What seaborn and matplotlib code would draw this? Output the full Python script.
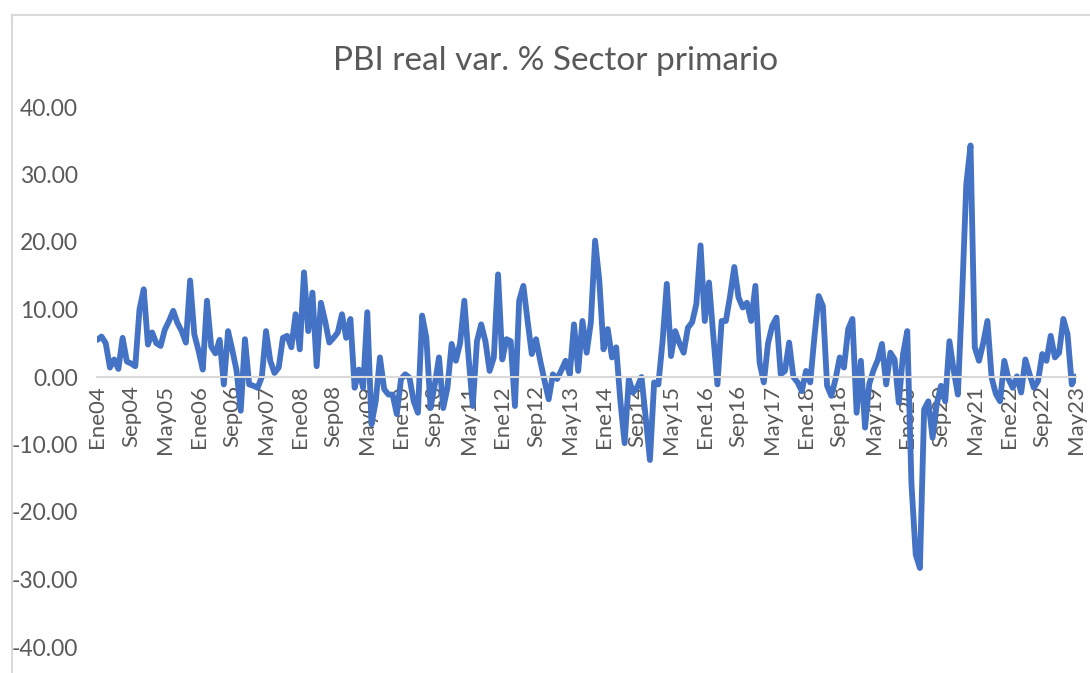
import numpy as np
import pandas as pd
import matplotlib
matplotlib.use("Agg")
import matplotlib.pyplot as plt
from matplotlib.patches import Rectangle
import seaborn as sns

# monthly % change, Jan 2004 .. May 2023
v2004 = [5.5, 6.0, 5.0, 1.4, 2.6, 1.2, 5.8, 2.3, 2.0, 1.6, 10.0, 13.0]
v2005 = [4.8, 6.6, 5.0, 4.6, 7.0, 8.3, 9.8, 8.0, 6.8, 5.1, 14.3, 6.3]
v2006 = [3.9, 1.1, 11.3, 4.5, 3.5, 5.5, -1.1, 6.8, 4.0, 1.0, -5.0, 5.6]
v2007 = [-1.1, -1.3, -1.6, 0.0, 6.8, 2.4, 0.6, 1.4, 5.8, 6.1, 4.4, 9.3]
v2008 = [4.1, 15.5, 6.8, 12.5, 1.6, 11.0, 8.3, 5.1, 5.8, 6.6, 9.3, 5.8]
v2009 = [8.6, -1.6, 1.1, -1.6, 9.6, -7.0, -3.6, 2.9, -1.8, -2.6, -2.6, -5.5]
v2010 = [-0.3, 0.4, -0.1, -3.6, -5.3, 9.1, 5.8, -4.6, -1.1, 2.9, -4.6, -1.6]
v2011 = [4.9, 2.4, 5.0, 11.3, 3.0, -4.3, 5.3, 7.8, 5.3, 0.9, 2.9, 15.2]
v2012 = [2.6, 5.6, 5.3, -4.3, 11.3, 13.5, 8.3, 3.4, 5.6, 2.4, -0.5, -3.3]
v2013 = [0.4, -0.3, 1.0, 2.4, 0.4, 7.8, 0.9, 8.3, 3.6, 8.1, 20.2, 14.3]
v2014 = [4.1, 7.1, 2.9, 4.4, -3.6, -9.8, -0.3, -2.3, -1.5, 0.0, -6.0, -12.3]
v2015 = [-0.8, -1.1, 5.3, 13.8, 3.1, 6.8, 5.0, 3.6, 7.3, 8.1, 10.8, 19.5]
v2016 = [8.3, 14.0, 6.3, -1.1, 8.3, 8.3, 12.0, 16.3, 11.8, 10.3, 11.0, 8.3]
v2017 = [13.5, 2.1, -0.8, 5.0, 7.6, 8.8, 0.4, 0.9, 5.1, 0.0, -0.8, -2.1]
v2018 = [0.9, -0.8, 6.0, 12.0, 10.5, -1.3, -2.8, -0.3, 2.9, 1.4, 7.1, 8.6]
v2019 = [-5.3, 2.4, -7.5, -1.0, 1.0, 2.5, 4.9, -1.1, 3.6, 2.6, -3.8, 3.4]
v2020 = [6.8, -15.9, -26.3, -28.3, -4.8, -3.6, -9.0, -4.0, -1.3, -3.6, 5.3, 1.0]
v2021 = [-2.6, 12.0, 28.6, 34.3, 4.4, 2.4, 5.0, 8.3, -0.1, -2.5, -3.6, 2.4]
v2022 = [-0.3, -1.6, 0.1, -2.3, 2.6, 0.4, -1.6, -0.6, 3.4, 2.4, 6.1, 2.9]
v2023 = [3.6, 8.6, 6.3, -1.1, 0.1]

tick_labels = ["Ene04", "Sep04", "May05", "Ene06", "Sep06", "May07", "Ene08",
               "Sep08", "May09", "Ene10", "Sep10", "May11", "Ene12", "Sep12",
               "May13", "Ene14", "Sep14", "May15", "Ene16", "Sep16", "May17",
               "Ene18", "Sep18", "May19", "Ene20", "Sep20", "May21", "Ene22",
               "Sep22", "May23"]

values = (v2004 + v2005 + v2006 + v2007 + v2008 + v2009 + v2010 + v2011
          + v2012 + v2013 + v2014 + v2015 + v2016 + v2017 + v2018 + v2019
          + v2020 + v2021 + v2022 + v2023)
df = pd.DataFrame({"mes": np.arange(len(values)), "var": values})

sns.set_style("white")
plt.rcParams["font.family"] = ["Lato", "DejaVu Sans"]
grey = "#595959"

fig = plt.figure(figsize=(10.9, 6.73), dpi=100)
ax = fig.add_axes([97.3 / 1090, 1 - 647 / 673, 978.7 / 1090, 540 / 673])

sns.lineplot(data=df, x="mes", y="var", ax=ax, color="#4472C4",
             linewidth=4.2, solid_joinstyle="round", solid_capstyle="round")

# axis crosses at zero -- set this before the ticks (it resets them)
for s in ["top", "right", "left"]:
    ax.spines[s].set_visible(False)
ax.spines["bottom"].set_position(("data", 0))
ax.spines["bottom"].set_color("#d9d9d9")
ax.spines["bottom"].set_linewidth(1.5)
ax.set_axisbelow(True)

ax.set_xlim(0, len(values) - 1)
ax.set_ylim(-40, 40)
ax.set_yticks(np.arange(-40, 41, 10))
ax.set_yticklabels([f"{t:.2f}" for t in np.arange(-40, 41, 10)])
ax.set_xticks(np.arange(0, len(values), 8))
ax.set_xticklabels(tick_labels)
ax.set_xticks(np.arange(0, len(values)), minor=True)
ax.set_xlabel("")
ax.set_ylabel("")

ax.tick_params(axis="x", which="both", direction="out", length=5,
               color="#d9d9d9", width=1.2)
ax.tick_params(axis="x", which="major", labelsize=16, labelcolor=grey,
               labelrotation=90, pad=1)
ax.tick_params(axis="y", length=0, labelsize=16.5, labelcolor=grey, pad=14)

fig.text(556 / 1090, 1 - 61 / 673, "PBI real var. % Sector primario",
         ha="center", va="center", fontsize=24, color=grey)

fig.patches.append(Rectangle((12 / 1090, -0.1), 1.2, 1.1 - 15 / 673,
                             transform=fig.transFigure, fill=False,
                             edgecolor="#d9d9d9", linewidth=1.5))

fig.savefig("out.png", dpi=100)
